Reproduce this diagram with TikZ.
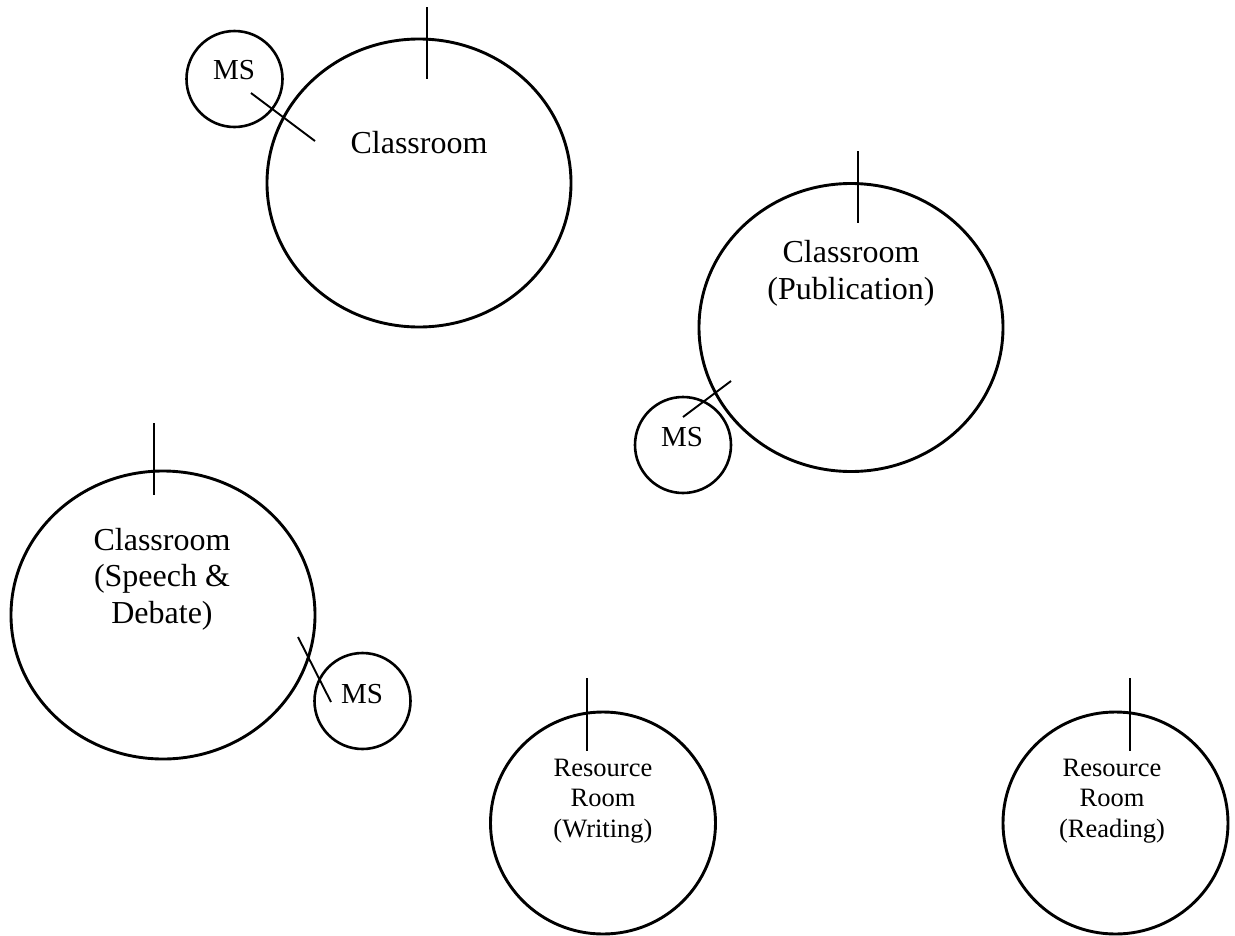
\documentclass[tikz,border=0pt]{standalone}
\usepackage{fontspec}
\setmainfont{Liberation Serif}
\usetikzlibrary{shapes.geometric}
\begin{document}
\begin{tikzpicture}[x=1pt,y=-1pt,
  room/.style={draw,ellipse,line width=2.9pt,inner sep=0pt,minimum width=304pt,minimum height=288pt},
  resroom/.style={draw,ellipse,line width=2.9pt,inner sep=0pt,minimum width=225pt,minimum height=222pt},
  ms/.style={draw,circle,line width=2.6pt,inner sep=0pt,minimum size=96pt},
  tick/.style={line width=1.9pt},
  bigtxt/.style={anchor=base,align=center,inner sep=0pt,font=\fontsize{32}{36.5}\selectfont},
  smalltxt/.style={anchor=base,align=center,inner sep=0pt,font=\fontsize{26.5}{30.5}\selectfont},
  mstxt/.style={anchor=base,inner sep=0pt,font=\fontsize{29}{32}\selectfont}
]
\useasboundingbox (0,0) rectangle (1235,935);

% rooms
\node[room] (c1) at (419,183) {};
\node[room] (c2) at (851,327.5) {};
\node[room] (c3) at (163,615) {};
\node[resroom] (rw) at (603,823) {};
\node[resroom] (rr) at (1115.5,823) {};

% small MS circles
\node[ms] (ms1) at (234.5,79) {};
\node[ms] (ms2) at (683,445) {};
\node[ms] (ms3) at (362.5,701) {};

% labels (base anchor sits on the last line)
\node[bigtxt] (t1) at (419,153) {Classroom};
\node[bigtxt] (t2) at (851,299) {Classroom\\(Publication)};
\node[bigtxt] (t3) at (162,623) {Classroom\\(Speech \&\\Debate)};
\node[smalltxt] (t4) at (603,837) {Resource\\Room\\(Writing)};
\node[smalltxt] (t5) at (1112,837) {Resource\\Room\\(Reading)};
\node[mstxt] (m1) at (234,79) {MS};
\node[mstxt] (m2) at (682,446) {MS};
\node[mstxt] (m3) at (362,703) {MS};

% entry ticks
\coordinate (k1a) at (427,7);    \coordinate (k1b) at (427,79);
\coordinate (k2a) at (858,151);  \coordinate (k2b) at (858,223);
\coordinate (k3a) at (154,423);  \coordinate (k3b) at (154,495);
\coordinate (k4a) at (587,678);  \coordinate (k4b) at (587,751);
\coordinate (k5a) at (1130,678); \coordinate (k5b) at (1130,751);
\draw[tick] (k1a) -- (k1b);
\draw[tick] (k2a) -- (k2b);
\draw[tick] (k3a) -- (k3b);
\draw[tick] (k4a) -- (k4b);
\draw[tick] (k5a) -- (k5b);

% links between MS circles and classrooms
\coordinate (l1a) at (251,93);  \coordinate (l1b) at (315,141);
\coordinate (l2a) at (683,417); \coordinate (l2b) at (731,381);
\coordinate (l3a) at (298,637); \coordinate (l3b) at (331,702);
\draw[tick] (l1a) -- (l1b);
\draw[tick] (l2a) -- (l2b);
\draw[tick] (l3a) -- (l3b);
\end{tikzpicture}
\end{document}
